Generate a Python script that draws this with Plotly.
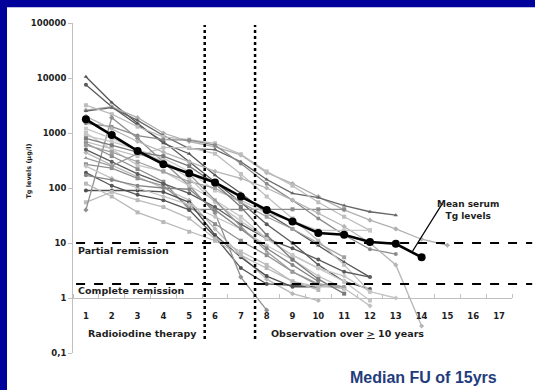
import plotly.graph_objects as go

# Follow-up years on the time axis
years = list(range(1, 18))
year_labels = [str(y) for y in years]

# Serum thyroglobulin (µg/l) per patient, one value per year of follow-up
patients = [
    [10500, 3600, 1500, 650, 420, 170, 80, 35, 18, 9, 4.5, 2.4],
    [7500, 3000, 1400, 700, 300, 130, 55, 22, 10, 4, 2, 1.45],
    [2600, 3000, 1900, 1000, 700, 560, 400, 190, 120, 70, 40, 26, 18, 11.7, 9.1],
    [2500, 2900, 1700, 900, 520, 500, 300, 143, 80, 67, 48, 37, 32],
    [3200, 2200, 1300, 850, 760, 650, 410, 200, 110, 55, 30, 17],
    [1500, 1300, 900, 760, 740, 600, 280, 120, 60, 28, 14, 7.7, 6.3],
    [700, 520, 380, 540, 540, 420, 180, 70, 28, 11, 4, 1.3],
    [650, 380, 220, 130, 41, 41, 41, 41, 41, 41, 41],
    [440, 260, 160, 100, 60, 18, 6, 2.2, 1.2, 0.9],
    [270, 230, 150, 110, 45, 22, 11, 6, 3, 1.7, 1.5],
    [190, 110, 75, 60, 40, 13, 3.5, 1.8, 1.7, 1.6],
    [90, 90, 90, 85, 55, 14, 5.5, 2.5, 1.6, 1.6],
    [55, 85, 60, 45, 28, 12, 7, 4, 2, 1.6, 1.6],
    [40, 1900, 800, 300, 110, 35, 2.4, 0.6],
    [1000, 500, 260, 200, 110, 60, 30, 12, 6, 3.5, 2, 0.9],
    [2000, 1200, 700, 450, 300, 200, 150, 100, 60, 35, 20, 10, 4, 0.31],
    [1200, 800, 500, 350, 200, 90, 60, 35, 25, 17, 17, 17],
    [500, 300, 180, 120, 80, 45, 22, 12, 8, 5, 3, 2.4],
    [120, 70, 36, 24, 16, 11, 6, 3.5, 2, 1.4],
    [250, 150, 100, 70, 50, 30, 18, 9, 5, 2.5, 1.5, 0.72],
    [600, 450, 300, 200, 130, 100, 55, 30, 18, 10, 5.5],
    [170, 140, 110, 100, 95, 40, 18, 8, 4, 2],
    [900, 700, 500, 300, 150, 55, 25, 12, 6, 3.5, 2.5, 1.3, 1.0],
    [350, 250, 420, 300, 180, 60, 20, 7, 3, 1.8, 1.6],
    [800, 600, 450, 380, 250, 120, 45, 14, 5, 2.2, 1.2],
]

# Mean serum Tg per year
mean_tg = [1770, 920, 472, 271, 186, 126, 70, 40, 24.5, 15.2, 14.1, 10.4, 9.7, 5.5]

# Per-patient line shade and marker
shades = ["#555555", "#5a5a5a", "#b0b0b0", "#666666", "#bdbdbd", "#8a8a8a", "#c0c0c0",
          "#8c8c8c", "#b8b8b8", "#8f8f8f", "#555555", "#4f4f4f", "#bbbbbb", "#909090",
          "#c4c4c4", "#b5b5b5", "#c8c8c8", "#5c5c5c", "#b8b8b8", "#c2c2c2", "#a0a0a0",
          "#858585", "#c6c6c6", "#9a9a9a", "#7a7a7a"]
symbols = ["triangle-up", "circle", "diamond", "triangle-up", "square", "circle", "square",
           "square", "diamond", "square", "circle", "circle", "square", "diamond",
           "square", "diamond", "square", "circle", "square", "diamond", "square",
           "circle", "diamond", "triangle-up", "square"]

FONT = "DejaVu Sans"
TXT = "#1e1e1e"


def label_font(size):
    return dict(family=FONT, size=size, color=TXT, weight="bold")


fig = go.Figure()
for vals, col, sym in zip(patients, shades, symbols):
    fig.add_trace(go.Scatter(
        x=years[:len(vals)], y=vals, mode="lines+markers",
        line=dict(color=col, width=1.3),
        marker=dict(color=col, size=4, symbol=sym),
        showlegend=False, hoverinfo="skip"))

fig.add_trace(go.Scatter(
    x=years[:len(mean_tg)], y=mean_tg, mode="lines+markers",
    line=dict(color="black", width=2.6),
    marker=dict(color="black", size=8),
    showlegend=False))

shapes = []
# Treatment / observation boundaries
for xv in (5.6, 7.55):
    shapes.append(dict(type="line", xref="x", yref="y", x0=xv, x1=xv, y0=0.18, y1=92000,
                       line=dict(color="black", width=2.5, dash="dot")))
# Remission thresholds
for yv in (10, 1.8):
    shapes.append(dict(type="line", xref="paper", yref="y", x0=0.007, x1=1.046, y0=yv, y1=yv,
                       line=dict(color="black", width=2, dash="dash")))
# Pointer to the mean curve
shapes.append(dict(type="line", xref="x", yref="y", x0=13.65, y0=7.1, x1=14.8, y1=52,
                   line=dict(color="black", width=1.2)))
# Slide frame (left and top bands)
shapes.append(dict(type="rect", xref="paper", yref="paper", x0=-0.17, x1=-0.1503,
                   y0=-0.12, y1=1.08, line=dict(width=0), fillcolor="#00009A", layer="above"))
shapes.append(dict(type="rect", xref="paper", yref="paper", x0=-0.17, x1=1.06,
                   y0=1.0475, y1=1.08, line=dict(width=0), fillcolor="#00009A", layer="above"))

annotations = [
    dict(text="Partial remission", x=0.6, y=0.87, xref="x", yref="y", xanchor="left",
         showarrow=False, font=label_font(9.5)),
    dict(text="Complete remission", x=0.6, y=0.132, xref="x", yref="y", xanchor="left",
         showarrow=False, font=label_font(9.5)),
    dict(text="Radioiodine therapy", x=1.0, y=-0.64, xref="x", yref="y", xanchor="left",
         showarrow=False, font=label_font(9.5)),
    dict(text="Observation over <u>></u> 10 years", x=8.1, y=-0.64, xref="x", yref="y",
         xanchor="left", showarrow=False, font=label_font(9.5)),
    dict(text="Time (years)", x=8.0, y=-1.14, xref="x", yref="y",
         showarrow=False, font=label_font(8.5)),
    dict(text="Mean serum<br>Tg levels", x=15.8, y=1.6, xref="x", yref="y",
         showarrow=False, align="center", font=label_font(9)),
    dict(text="Tg levels (µg/l)", x=-0.1, y=0.55, xref="paper", yref="paper", textangle=-90,
         xanchor="center", yanchor="middle", showarrow=False, font=label_font(6.5)),
    dict(text="<b>Median FU of 15yrs</b>", x=0.97, y=-0.075, xref="paper", yref="paper",
         xanchor="right", yanchor="middle", showarrow=False,
         font=dict(family="Liberation Sans, Arial", size=16, color="#1F3C7C")),
]

fig.update_layout(
    width=535, height=390,
    margin=dict(l=73, r=23, t=23, b=37),
    paper_bgcolor="white", plot_bgcolor="white",
    font=dict(family=FONT, color=TXT),
    shapes=shapes, annotations=annotations,
    xaxis=dict(range=[0.5, 17.5], anchor="free", position=1/6,
               tickvals=years, ticktext=year_labels, ticks="",
               showline=True, linecolor="#c0c0c0", linewidth=1, showgrid=False,
               zeroline=False, ticklabelstandoff=10,
               tickfont=label_font(8.5),
               minor=dict(tickmode="array", tickvals=[y + 0.5 for y in range(0, 18)],
                          ticks="inside", ticklen=4, tickcolor="#c0c0c0", showgrid=False)),
    yaxis=dict(type="log", range=[-1, 5],
               tickvals=[0.1, 1, 10, 100, 1000, 10000, 100000],
               ticktext=["0,1", "1", "10", "100", "1000", "10000", "100000"],
               ticks="outside", ticklen=4, tickcolor="#c0c0c0",
               showline=True, linecolor="#c0c0c0", linewidth=1, showgrid=False,
               zeroline=False, tickfont=label_font(8.5)),
)

fig.write_html("out.html")
